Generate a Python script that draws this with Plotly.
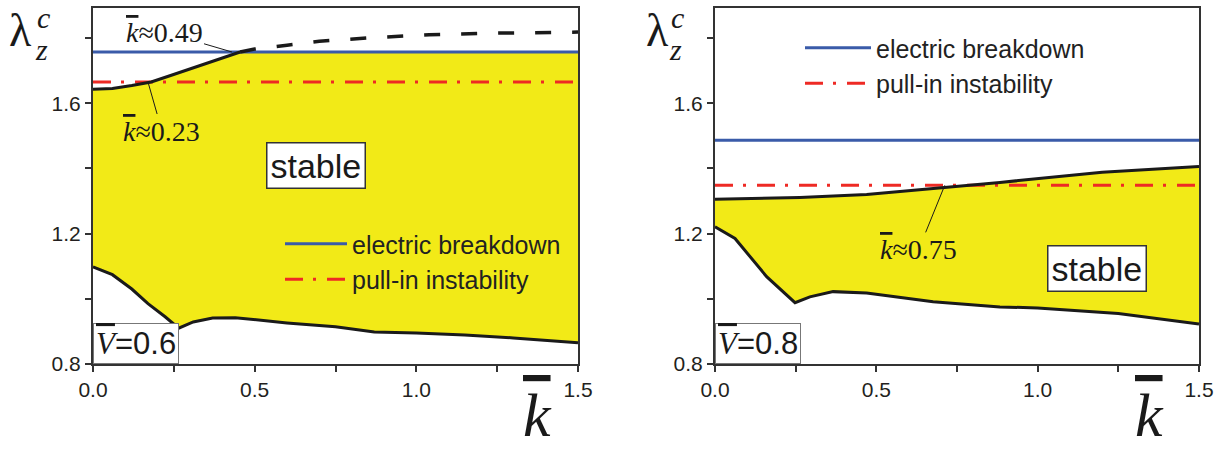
import plotly.graph_objects as go

W, H = 1226, 451

# ---------------- data ----------------
# Left panel, V = 0.6
L_low_k = [0, 0.06, 0.12, 0.17, 0.223, 0.265, 0.31, 0.37, 0.44, 0.6, 0.75, 0.87, 1.0, 1.15, 1.3, 1.5]
L_low_v = [1.098, 1.074, 1.03, 0.985, 0.945, 0.91, 0.929, 0.941, 0.942, 0.926, 0.914, 0.898, 0.895, 0.889, 0.88, 0.865]
L_up_k = [0, 0.06, 0.12, 0.18, 0.24, 0.3, 0.38, 0.455]
L_up_v = [1.643, 1.645, 1.654, 1.665, 1.685, 1.705, 1.73, 1.757]
L_dash_k = [0.455, 0.5, 0.6, 0.7, 0.85, 1.04, 1.25, 1.5]
L_dash_v = [1.757, 1.766, 1.778, 1.79, 1.80, 1.81, 1.815, 1.818]
L_breakdown = 1.757
L_pullin = 1.665

# Right panel, V = 0.8
R_low_k = [0, 0.062, 0.16, 0.248, 0.294, 0.366, 0.47, 0.676, 0.883, 1.0, 1.25, 1.5]
R_low_v = [1.221, 1.185, 1.068, 0.988, 1.006, 1.022, 1.018, 0.991, 0.975, 0.972, 0.955, 0.923]
R_up_k = [0, 0.263, 0.47, 0.706, 0.883, 1.2, 1.5]
R_up_v = [1.305, 1.311, 1.32, 1.34, 1.357, 1.388, 1.406]
R_breakdown = 1.486
R_pullin = 1.348

K_RANGE = [0, 1.5]
LAM_RANGE = [0.8, 1.892]

YELLOW = "#F2EA17"
BLUE = "#3A5BA9"
RED = "#EE2A24"
BLACK = "#1a1a1a"
AXC = "#333333"

SERIF = "Liberation Serif"
SANS = "Liberation Sans"


def px(x):
    return x / W


def py(y):
    return 1 - y / H


fig = go.Figure()

# ---------------- left panel ----------------
fill_k = L_low_k + [1.5, L_up_k[-1]] + L_up_k[::-1]
fill_v = L_low_v + [L_breakdown, L_breakdown] + L_up_v[::-1]
fig.add_trace(go.Scatter(x=fill_k, y=fill_v, fill="toself", fillcolor=YELLOW,
                         line=dict(width=0), mode="lines", showlegend=False,
                         hoverinfo="skip", xaxis="x", yaxis="y"))
fig.add_trace(go.Scatter(x=K_RANGE, y=[L_breakdown] * 2, mode="lines",
                         line=dict(color=BLUE, width=3), name="electric breakdown",
                         legend="legend", xaxis="x", yaxis="y"))
fig.add_trace(go.Scatter(x=K_RANGE, y=[L_pullin] * 2, mode="lines",
                         line=dict(color=RED, width=3, dash="18px,10px,3px,11px"),
                         name="pull-in instability", legend="legend", xaxis="x", yaxis="y"))
fig.add_trace(go.Scatter(x=L_low_k, y=L_low_v, mode="lines", line=dict(color=BLACK, width=3),
                         showlegend=False, xaxis="x", yaxis="y"))
fig.add_trace(go.Scatter(x=L_up_k, y=L_up_v, mode="lines", line=dict(color=BLACK, width=3),
                         showlegend=False, xaxis="x", yaxis="y"))
fig.add_trace(go.Scatter(x=L_dash_k, y=L_dash_v, mode="lines",
                         line=dict(color=BLACK, width=3.5, dash="16px,21px"),
                         showlegend=False, xaxis="x", yaxis="y"))

# ---------------- right panel ----------------
fill_k2 = R_low_k + R_up_k[::-1]
fill_v2 = R_low_v + R_up_v[::-1]
fig.add_trace(go.Scatter(x=fill_k2, y=fill_v2, fill="toself", fillcolor=YELLOW,
                         line=dict(width=0), mode="lines", showlegend=False,
                         hoverinfo="skip", xaxis="x2", yaxis="y2"))
fig.add_trace(go.Scatter(x=K_RANGE, y=[R_breakdown] * 2, mode="lines",
                         line=dict(color=BLUE, width=3), name="electric breakdown",
                         legend="legend2", xaxis="x2", yaxis="y2"))
fig.add_trace(go.Scatter(x=K_RANGE, y=[R_pullin] * 2, mode="lines",
                         line=dict(color=RED, width=3, dash="18px,10px,3px,11px"),
                         name="pull-in instability", legend="legend2", xaxis="x2", yaxis="y2"))
fig.add_trace(go.Scatter(x=R_low_k, y=R_low_v, mode="lines", line=dict(color=BLACK, width=3),
                         showlegend=False, xaxis="x2", yaxis="y2"))
fig.add_trace(go.Scatter(x=R_up_k, y=R_up_v, mode="lines", line=dict(color=BLACK, width=3),
                         showlegend=False, xaxis="x2", yaxis="y2"))

# ---------------- axes ----------------
def xax(domain, anchor):
    return dict(domain=domain, range=K_RANGE, anchor=anchor, showgrid=False, zeroline=False,
                automargin=False,
                showline=True, mirror=True, linecolor=AXC, linewidth=2,
                ticks="outside", ticklen=6, tickwidth=1.5, tickcolor=AXC,
                tickvals=[0, 0.5, 1.0, 1.5], ticktext=["0.0", "0.5", "1.0", "1.5"],
                minor=dict(tickvals=[0.25, 0.75, 1.25], ticks="outside", ticklen=6,
                           tickwidth=1.5, tickcolor=AXC),
                tickfont=dict(family=SANS, size=21, color="#231f20"))


def yax(anchor):
    return dict(domain=[py(364), py(8)], range=LAM_RANGE, anchor=anchor, showgrid=False,
                automargin=False,
                zeroline=False, showline=True, mirror=True, linecolor=AXC, linewidth=2,
                ticks="outside", ticklen=6, tickwidth=1.5, tickcolor=AXC,
                tickvals=[0.8, 1.2, 1.6], ticktext=["0.8", "1.2", "1.6"],
                minor=dict(tickvals=[1.0, 1.4, 1.8], ticks="outside", ticklen=6,
                           tickwidth=1.5, tickcolor=AXC),
                tickfont=dict(family=SANS, size=21, color="#231f20"))


OV = "<span style='text-decoration:overline'><i>{}</i></span>"

annotations = []


def ann(**kw):
    base = dict(showarrow=False, xanchor="center", yanchor="middle")
    base.update(kw)
    annotations.append(base)


# y-axis titles (λ_z^c)
for lx, cx, zx in [(20, 44, 41), (657, 677, 675)]:
    ann(x=px(lx), y=py(30), xref="paper", yref="paper", text="λ",
        font=dict(family=SERIF, size=46, color=BLACK))
    ann(x=px(cx), y=py(17), xref="paper", yref="paper", text="<i>c</i>",
        font=dict(family=SERIF, size=30, color=BLACK))
    ann(x=px(zx), y=py(50), xref="paper", yref="paper", text="<i>z</i>",
        font=dict(family=SERIF, size=30, color=BLACK))

# x-axis titles
for kx in [537, 1149]:
    ann(x=px(kx), y=0, xref="paper", yref="paper", yanchor="bottom", text=OV.format("k"),
        font=dict(family=SERIF, size=62, color=BLACK))

# leader annotations
ann(x=0.43, y=L_breakdown, xref="x", yref="y", text=OV.format("k") + "≈0.49",
    showarrow=True, arrowhead=0, arrowwidth=1, arrowcolor=BLACK, ax=-68, ay=-20,
    font=dict(family=SERIF, size=28, color=BLACK))
ann(x=0.17, y=L_pullin, xref="x", yref="y", text=OV.format("k") + "≈0.23",
    showarrow=True, arrowhead=0, arrowwidth=1, arrowcolor=BLACK, ax=14, ay=49,
    font=dict(family=SERIF, size=28, color=BLACK))
ann(x=0.712, y=R_pullin, xref="x2", yref="y2", text=OV.format("k") + "≈0.75",
    showarrow=True, arrowhead=0, arrowwidth=1, arrowcolor=BLACK, ax=-26, ay=64,
    font=dict(family=SERIF, size=28, color=BLACK))

# "stable" boxes
ann(x=0.69, y=1.409, xref="x", yref="y", text="stable", bgcolor="white",
    bordercolor=AXC, borderwidth=1.5, borderpad=3,
    font=dict(family=SANS, size=34, color=BLACK))
ann(x=1.183, y=1.092, xref="x2", yref="y2", text="stable", bgcolor="white",
    bordercolor=AXC, borderwidth=1.5, borderpad=3,
    font=dict(family=SANS, size=34, color=BLACK))

# V boxes
ann(x=0, y=0.8, xref="x", yref="y", xanchor="left", yanchor="bottom",
    text="<span style='font-family:Liberation Serif'>" + OV.format("V") + "</span>=0.6",
    bgcolor="white", bordercolor="#777777", borderwidth=1, borderpad=2,
    font=dict(family=SANS, size=31, color=BLACK))
ann(x=0, y=0.8, xref="x2", yref="y2", xanchor="left", yanchor="bottom",
    text="<span style='font-family:Liberation Serif'>" + OV.format("V") + "</span>=0.8",
    bgcolor="white", bordercolor="#777777", borderwidth=1, borderpad=2,
    font=dict(family=SANS, size=31, color=BLACK))

fig.update_layout(
    width=W, height=H, margin=dict(l=0, r=0, t=0, b=0),
    paper_bgcolor="white", plot_bgcolor="white",
    xaxis=xax([px(93), px(578)], "y"),
    yaxis=yax("x"),
    xaxis2=xax([px(715), px(1199)], "y2"),
    yaxis2=yax("x2"),
    legend=dict(x=px(280), y=py(221), xanchor="left", yanchor="top",
                bgcolor="rgba(0,0,0,0)", font=dict(family=SANS, size=25, color="#222"),
                itemwidth=62),
    legend2=dict(x=px(800), y=py(25), xanchor="left", yanchor="top",
                 bgcolor="rgba(0,0,0,0)", font=dict(family=SANS, size=25, color="#222"),
                 itemwidth=66),
    annotations=annotations,
    showlegend=True,
)

fig.write_html("out.html")
